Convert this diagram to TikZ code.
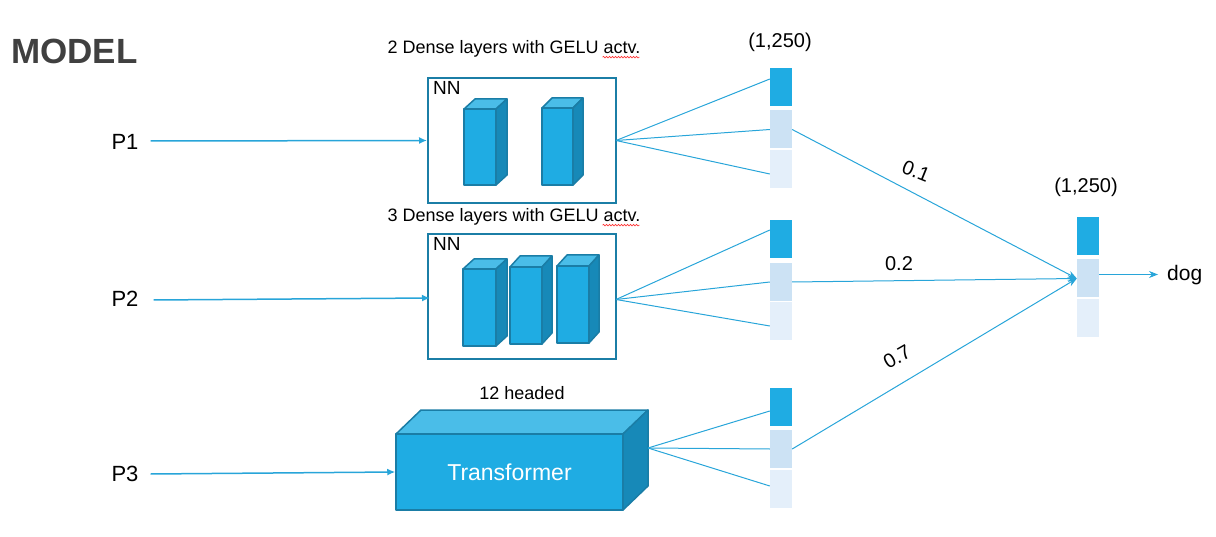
\documentclass[tikz,border=0pt]{standalone}
\usepackage{fontspec}
\setmainfont{Liberation Sans}
\usetikzlibrary{arrows.meta,decorations.pathmorphing,calc}
\definecolor{cmain}{HTML}{1FACE3}
\definecolor{ctop}{HTML}{4ABDE8}
\definecolor{cside}{HTML}{1789B8}
\definecolor{cedge}{HTML}{1A7DA6}
\definecolor{cbox}{HTML}{1B7EA6}
\definecolor{cline}{HTML}{28A5D9}
\definecolor{clight}{HTML}{CCE2F4}
\definecolor{cpale}{HTML}{E4EFFA}
\definecolor{cgray}{HTML}{404040}
\tikzset{
  txt/.style={inner sep=0pt, font=\fontsize{18}{21}\selectfont},
  lbl/.style={inner sep=0pt, font=\fontsize{20}{23}\selectfont},
  ptxt/.style={inner sep=0pt, font=\fontsize{22}{26}\selectfont},
  nnbox/.style={draw=cbox, line width=2pt, fill=white, inner sep=0pt},
  cell/.style={inner sep=0pt, minimum width=22pt, minimum height=38pt},
  cdark/.style={cell, fill=cmain},
  cmid/.style={cell, fill=clight},
  clow/.style={cell, fill=cpale},
  fan/.style={draw=cline, line width=1pt},
  parr/.style={draw=cline, line width=1.5pt, -{Latex[length=8pt,width=7pt]}},
  warr/.style={draw=cline, line width=1pt, -{Stealth[length=9pt,width=7pt]}},
  face/.style={fill=cmain, draw=cedge, line width=1.5pt, line join=round},
  topf/.style={fill=ctop, draw=cedge, line width=1.5pt, line join=round},
  sidef/.style={fill=cside, draw=cedge, line width=1.5pt, line join=round},
  squig/.style={red!80, line width=0.6pt, decorate, decoration={snake, amplitude=0.8pt, segment length=3pt}},
}
% cuboid: x1 x2 ytop ybot dx dy
\newcommand\mycube[6]{%
  \filldraw[topf] (#1,#3) -- ++(#5,-#6) -- (#2+#5,#3-#6) -- (#2,#3) -- cycle;
  \filldraw[sidef] (#2,#3) -- (#2+#5,#3-#6) -- (#2+#5,#4-#6) -- (#2,#4) -- cycle;
  \filldraw[face] (#1,#3) rectangle (#2,#4);
}
\begin{document}
\begin{tikzpicture}[x=1pt,y=-1pt]
\useasboundingbox (0,0) rectangle (1216,537);

% title
\node[inner sep=0pt, anchor=west, text=cgray, font=\fontsize{35}{39}\bfseries] (model) at (11,51) {MODEL};

% inputs
\node[ptxt] (P1) at (125,142) {P1};
\node[ptxt] (P2) at (125,299) {P2};
\node[ptxt] (P3) at (125,474) {P3};

% NN boxes
\node[nnbox, minimum width=188pt, minimum height=125pt] (nn1) at (522,140.5) {};
\node[nnbox, minimum width=188pt, minimum height=125pt] (nn2) at (522,296.5) {};
\node[inner sep=0pt, font=\fontsize{19}{22}\selectfont, anchor=north west] (nnl1) at ([xshift=6pt,yshift=-4pt]nn1.north west) {NN};
\node[inner sep=0pt, font=\fontsize{19}{22}\selectfont, anchor=north west] (nnl2) at ([xshift=6pt,yshift=-4pt]nn2.north west) {NN};

\node[txt] (t1) at (514,49) {2 Dense layers with GELU actv.};
\node[txt] (t2) at (514,217) {3 Dense layers with GELU actv.};
\draw[squig] ([xshift=-38pt,yshift=-3.5pt]t1.base east) -- ([xshift=-1pt,yshift=-3.5pt]t1.base east);
\draw[squig] ([xshift=-38pt,yshift=-3.5pt]t2.base east) -- ([xshift=-1pt,yshift=-3.5pt]t2.base east);

% dense layers
\mycube{464}{496}{109}{185}{11}{10}
\mycube{542}{573}{108}{185}{10}{10}
\mycube{463}{496}{269}{346}{11}{10}
\mycube{510}{542}{267}{344}{10}{11}
\mycube{557}{589}{266}{343}{10}{11}

% transformer
\node[txt] (t3) at (522,393) {12 headed};
\filldraw[topf] (396,434) -- (421,410) -- (648,410) -- (623,434) -- cycle;
\filldraw[sidef] (623,434) -- (648,410) -- (648,486) -- (623,510) -- cycle;
\node[face, minimum width=227pt, minimum height=76pt, inner sep=0pt, text=white,
      font=\fontsize{23}{27}\selectfont] (trans) at (509.5,472) {Transformer};

% input arrows
\draw[parr] ([xshift=12pt,yshift=1pt]P1.east) -- (nn1.west);
\draw[parr] ([xshift=15pt,yshift=-1pt]P2.east) -- ([xshift=3pt,yshift=-1.5pt]nn2.west);
\draw[parr] ([xshift=12pt]P3.east) -- (trans.west);

% vectors
\node[cdark] (v1a) at (781,87.5) {};
\node[cmid]  (v1b) at (781,129.5) {};
\node[clow]  (v1c) at (781,169.5) {};
\node[cdark] (v2a) at (781,239.5) {};
\node[cmid]  (v2b) at (781,282) {};
\node[clow]  (v2c) at (781,321.5) {};
\node[cdark] (v3a) at (781,407) {};
\node[cmid]  (v3b) at (781,449) {};
\node[clow]  (v3c) at (781,489) {};
\node[cdark] (fa) at (1088,236.5) {};
\node[cmid]  (fb) at (1088,278.5) {};
\node[clow]  (fc) at (1088,318.5) {};

\node[lbl] (s1) at (780,42) {(1,250)};
\node[lbl] (s2) at (1086,187) {(1,250)};

% fans
\coordinate (o1) at ([xshift=-1pt]nn1.east);
\coordinate (o2) at ([xshift=-1pt,yshift=-3pt]nn2.east);
\coordinate (o3) at (648,448);
\draw[fan] (o1) -- ([yshift=8.5pt]v1a.west);
\draw[fan] (o1) -- (v1b.west);
\draw[fan] (o1) -- ([yshift=-4.5pt]v1c.west);
\draw[fan] (o2) -- ([yshift=9.5pt]v2a.west);
\draw[fan] (o2) -- (v2b.west);
\draw[fan] (o2) -- ([yshift=-4.5pt]v2c.west);
\draw[fan] (o3) -- ([yshift=-4pt]v3a.west);
\draw[fan] (o3) -- (v3b.west);
\draw[fan] (o3) -- ([yshift=3pt]v3c.west);

% weighted combination
\draw[warr] (v1b.east) -- (fb.west);
\draw[warr] (v2b.east) -- (fb.west);
\draw[warr] (v3b.east) -- (fb.west);
\node[lbl, rotate=-22] (w1) at (916,171) {0.1};
\node[lbl] (w2) at (899,264) {0.2};
\node[lbl, rotate=30] (w3) at (897,357) {0.7};

% output
\node[lbl, font=\fontsize{21}{24}\selectfont, anchor=west] (dog) at (1167,275) {dog};
\draw[warr] ([yshift=4pt]fb.east) -- ([xshift=-9pt,yshift=0.5pt]dog.west);
\end{tikzpicture}
\end{document}
